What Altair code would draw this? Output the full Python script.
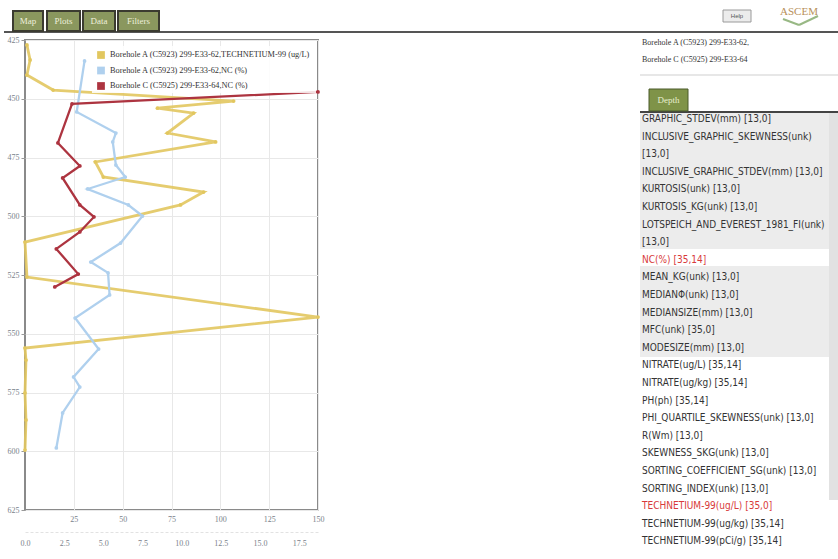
import altair as alt
import pandas as pd

# ---------------- data ----------------
series_names = [
    "Borehole A (C5923) 299-E33-62,TECHNETIUM-99 (ug/L)",
    "Borehole A (C5923) 299-E33-62,NC (%)",
    "Borehole C (C5925) 299-E33-64,NC (%)",
]
series_colors = ["#e2c75f", "#afd0ee", "#ad3440"]

tc_depth = [427.1, 433.5, 439.9, 446.3, 451.0, 454.0, 456.1, 464.6, 468.4, 476.9, 483.3,
            489.7, 495.2, 511.0, 525.9, 542.9, 556.1, 561.2, 575.2, 586.7, 599.5]
tc_value = [1.0, 2.6, 1.0, 14.4, 106.8, 67.8, 86.3, 72.9, 97.6, 36.0, 40.1,
            91.4, 79.6, 0.0, 1.0, 150.0, 0.0, 0.5, 0.0, 0.5, 0.0]

nca_depth = [433.9, 455.6, 464.6, 468.4, 478.2, 483.3, 488.4, 495.2, 499.9, 511.4,
             519.5, 524.1, 533.5, 543.3, 556.5, 568.4, 572.7, 583.7, 598.6]
nca_value = [3.8, 3.3, 5.8, 5.6, 5.8, 6.4, 4.0, 6.6, 7.5, 6.1,
             4.2, 5.3, 5.4, 3.2, 4.7, 3.1, 3.5, 2.4, 2.0]

ncc_depth = [447.1, 452.2, 468.8, 478.6, 483.7, 495.2, 500.3, 506.7, 513.9, 524.6, 530.1]
ncc_value = [18.7, 3.0, 2.1, 3.5, 2.4, 3.5, 4.4, 3.5, 2.0, 3.4, 1.9]

depth_ticks = [425, 450, 475, 500, 525, 550, 575, 600, 625]
tc_ticks = [25, 50, 75, 100, 125, 150]
nc_ticks = [0, 2.5, 5, 7.5, 10, 12.5, 15, 17.5]

top_tabs = ["Map", "Plots", "Data", "Filters"]
header_lines = ["Borehole A (C5923) 299-E33-62,", "Borehole C (C5925) 299-E33-64"]
panel_items = [
    "GRAPHIC_STDEV(mm) [13,0]",
    "INCLUSIVE_GRAPHIC_SKEWNESS(unk)",
    "[13,0]",
    "INCLUSIVE_GRAPHIC_STDEV(mm) [13,0]",
    "KURTOSIS(unk) [13,0]",
    "KURTOSIS_KG(unk) [13,0]",
    "LOTSPEICH_AND_EVEREST_1981_FI(unk)",
    "[13,0]",
    "NC(%) [35,14]",
    "MEAN_KG(unk) [13,0]",
    "MEDIANΦ(unk) [13,0]",
    "MEDIANSIZE(mm) [13,0]",
    "MFC(unk) [35,0]",
    "MODESIZE(mm) [13,0]",
    "NITRATE(ug/L) [35,14]",
    "NITRATE(ug/kg) [35,14]",
    "PH(ph) [35,14]",
    "PHI_QUARTILE_SKEWNESS(unk) [13,0]",
    "R(Wm) [13,0]",
    "SKEWNESS_SKG(unk) [13,0]",
    "SORTING_COEFFICIENT_SG(unk) [13,0]",
    "SORTING_INDEX(unk) [13,0]",
    "TECHNETIUM-99(ug/L) [35,0]",
    "TECHNETIUM-99(ug/kg) [35,14]",
    "TECHNETIUM-99(pCi/g) [35,14]",
]
highlighted = ["NC(%) [35,14]", "TECHNETIUM-99(ug/L) [35,0]"]

# ---------------- layout constants ----------------
OX, OY = 25, 40          # page position of plot origin
W, H = 293, 470
SERIF = "Liberation Serif"
NARROW = "Liberation Sans Narrow, DejaVu Sans Condensed, Roboto, Liberation Sans"

tc_df = pd.DataFrame({"series": series_names[0], "depth": tc_depth, "value": tc_value})
nc_df = pd.concat([
    pd.DataFrame({"series": series_names[1], "depth": nca_depth, "value": nca_value}),
    pd.DataFrame({"series": series_names[2], "depth": ncc_depth, "value": ncc_value}),
])

color_scale = alt.Scale(domain=series_names, range=series_colors)
y_enc = alt.Y("depth:Q",
              scale=alt.Scale(domain=[425, 625], reverse=True, nice=False, zero=False),
              axis=alt.Axis(values=depth_ticks, title=None, labelFont=SERIF, labelFontSize=8,
                            labelColor="#7a7f8a", tickSize=4, tickColor="#999", domain=False,
                            gridColor="#e8e8e8", labelPadding=2, labelFlush=False))

pt = alt.OverlayMarkDef(filled=True, size=14)

tc_chart = alt.Chart(tc_df).mark_line(strokeWidth=2.8, point=pt, opacity=0.9).encode(
    x=alt.X("value:Q", scale=alt.Scale(domain=[0, 150], nice=False, zero=True),
            axis=alt.Axis(orient="bottom", values=tc_ticks, format="d", title=None,
                          labelFont=SERIF, labelFontSize=8, labelColor="#7a7f8a", ticks=False,
                          domain=False, gridColor="#e8e8e8", labelPadding=5, labelFlush=False)),
    y=y_enc,
    order=alt.Order("depth:Q"),
    color=alt.Color("series:N", scale=color_scale, legend=None),
)

nc_chart = alt.Chart(nc_df).mark_line(strokeWidth=2.3, point=pt).encode(
    x=alt.X("value:Q", scale=alt.Scale(domain=[0, 18.7], nice=False, zero=True),
            axis=alt.Axis(orient="bottom", offset=22, values=nc_ticks, format=".1f", title=None,
                          labelFont=SERIF, labelFontSize=8, labelColor="#7a7f8a", ticks=False,
                          grid=False, domain=True, domainColor="#e2e2e2", domainDash=[3, 2],
                          labelPadding=7, labelFlush=False)),
    y=y_enc,
    order=alt.Order("depth:Q"),
    color=alt.Color("series:N", scale=color_scale, legend=None),
)

one = pd.DataFrame({"a": [1]})


def rect(x1, y1, x2, y2, fill, stroke=None, sw=0, opacity=1):
    kw = dict(fill=fill, opacity=opacity)
    if stroke:
        kw.update(stroke=stroke, strokeWidth=sw)
    return alt.Chart(one).mark_rect(**kw).encode(
        x=alt.value(x1 - OX), x2=alt.value(x2 - OX),
        y=alt.value(y1 - OY), y2=alt.value(y2 - OY))


def rule(x1, y1, x2, y2, color, sw=1):
    return alt.Chart(one).mark_rule(color=color, strokeWidth=sw).encode(
        x=alt.value(x1 - OX), x2=alt.value(x2 - OX),
        y=alt.value(y1 - OY), y2=alt.value(y2 - OY))


def text(s, x, y, size=10, color="#333", font=NARROW, align="left", weight="normal"):
    return alt.Chart(one).mark_text(text=s, fontSize=size, color=color, font=font,
                                    align=align, baseline="middle", fontWeight=weight).encode(
        x=alt.value(x - OX), y=alt.value(y - OY))


bg = []
# list backgrounds
bg.append(rect(640, 113, 836, 249, "#ececec"))
bg.append(rect(640, 266, 836, 357, "#ececec"))
bg.append(rect(829, 113, 838, 500, "#e2e2e2"))

deco = []
# top tab bar
deco.append(rule(4, 32, 838, 32, "#555", 2))
tab_pos = [(13, 43), (47, 80), (83, 115), (118, 159)]
for name, (a, b) in zip(top_tabs, tab_pos):
    deco.append(rect(a, 11, b, 31, "#8a975e", "#3b3b30", 2))
    deco.append(text(name, (a + b) / 2, 21, size=9, color="#eef0dc", font=SERIF, align="center"))

# help button + logo
deco.append(rect(723, 10, 751, 22, "#ececec", "#9a9a9a", 1))
deco.append(text("Help", 737, 16, size=6, color="#555", font="Liberation Sans", align="center"))
deco.append(text("ASCEM", 799, 12, size=11, color="#b8905a", font=SERIF, align="center"))
deco.append(rule(783, 19, 799, 25, "#98b884", 2))
deco.append(rule(799, 25, 818, 16, "#98b884", 2))

# right panel header
for i, s in enumerate(header_lines):
    deco.append(text(s, 642, 43 + 17 * i, size=8, color="#333", font=SERIF))
deco.append(rule(640, 75, 838, 75, "#cfcfcf", 1))
deco.append(rule(640, 112, 838, 112, "#444", 2))
deco.append(rect(649, 89, 688, 111, "#7f9348", "#4a5a2a", 1))
deco.append(text("Depth", 668.5, 100, size=9, color="#e8f0d0", font=SERIF, align="center"))

list_df = pd.DataFrame({"item": panel_items, "row": list(range(len(panel_items))),
                        "hl": [p in highlighted for p in panel_items]})
list_layer = alt.Chart(list_df).transform_calculate(
    py=f"{119 - OY} + datum.row * 17.6"
).mark_text(align="left", baseline="middle", fontSize=10, font=NARROW).encode(
    x=alt.value(642 - OX),
    y=alt.Y("py:Q", scale=None, axis=None),
    text="item:N",
    color=alt.condition("datum.hl", alt.value("#d83a3a"), alt.value("#333333")),
)

# legend (drawn manually)
legend_bg = rect(92, 46, 316, 93, "#ffffff", opacity=0.85)
leg_df = pd.DataFrame({"series": series_names, "i": [0, 1, 2]})
leg_sym = alt.Chart(leg_df).transform_calculate(
    py=f"{55 - OY} + datum.i * 15.5"
).mark_square(size=60, opacity=1, filled=True).encode(
    x=alt.value(101 - OX),
    y=alt.Y("py:Q", scale=None, axis=None),
    color=alt.Color("series:N", scale=color_scale, legend=None),
)
leg_txt = alt.Chart(leg_df).transform_calculate(
    py=f"{55 - OY} + datum.i * 15.5"
).mark_text(align="left", baseline="middle", fontSize=8.3, font=SERIF, color="#333").encode(
    x=alt.value(110 - OX),
    y=alt.Y("py:Q", scale=None, axis=None),
    text="series:N",
)

chart = alt.layer(
    tc_chart, nc_chart, legend_bg, leg_sym, leg_txt, *bg, list_layer, *deco
).resolve_scale(x="independent").properties(
    width=W, height=H,
    autosize=alt.AutoSizeParams(type="none"),
    padding={"left": OX, "top": OY, "right": 838 - OX - W, "bottom": 559 - OY - H},
    background="white",
).configure_view(stroke="#8a8a8a", strokeWidth=2)

chart.save("out.html", embed_options={"renderer": "svg", "actions": False})
